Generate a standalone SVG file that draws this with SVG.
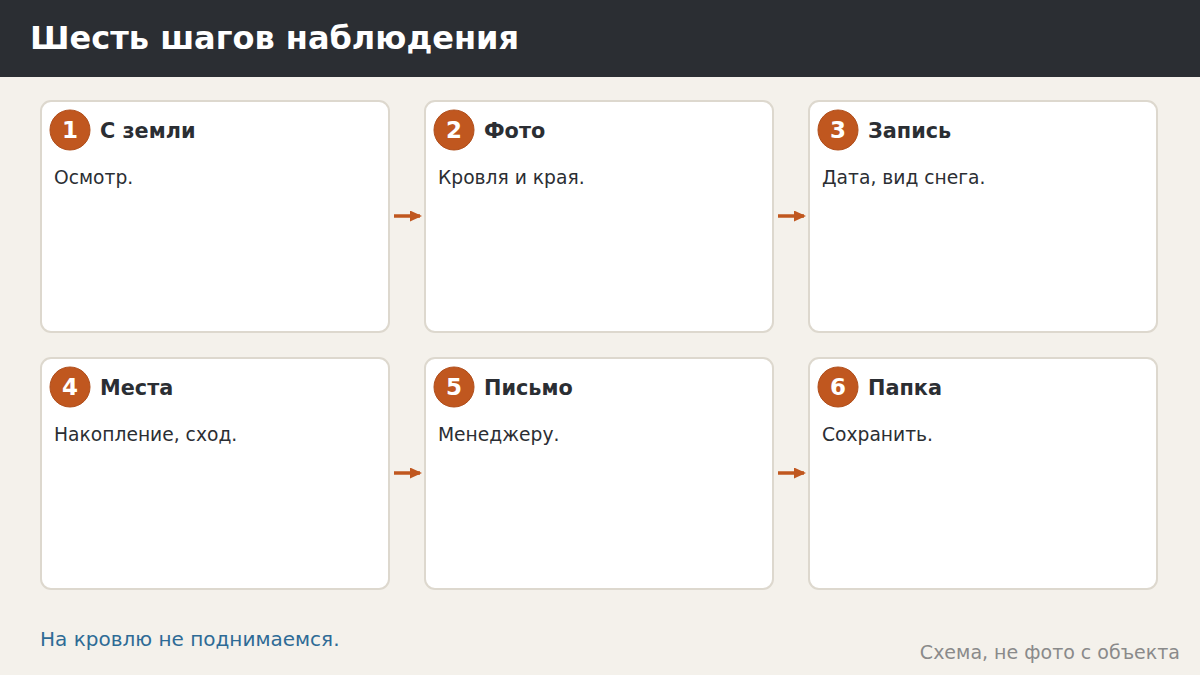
<svg xmlns="http://www.w3.org/2000/svg" width="1200" height="675" viewBox="0 0 1200 675">
<defs>
<style>
.card{fill:#ffffff;stroke:#ddd8ce;stroke-width:2}
.badge{fill:#c0571f;stroke:#b04e1b;stroke-width:1}
.num{font-family:"DejaVu Sans",sans-serif;font-weight:bold;font-size:23px;fill:#ffffff;text-anchor:middle}
.ttl{font-family:"DejaVu Sans",sans-serif;font-weight:bold;font-size:20.8px;fill:#2b2e33}
.body{font-family:"DejaVu Sans",sans-serif;font-size:18.7px;fill:#2b2e33}
.conn{stroke:#c0571f;stroke-width:3.5;fill:none}
</style>
<marker id="ah" markerWidth="12" markerHeight="11" refX="10" refY="5.5" orient="auto" markerUnits="userSpaceOnUse" viewBox="0 0 12 11">
<path d="M0,0 L12,5.5 L0,11 Z" fill="#c0571f"/>
</marker>
</defs>
<rect width="1200" height="675" fill="#f4f1eb"/>
<rect width="1200" height="77" fill="#2b2e33"/>
<text x="30" y="49" font-family="DejaVu Sans, sans-serif" font-weight="bold" font-size="32" fill="#ffffff">Шесть шагов наблюдения</text>

<g id="connectors">
<line class="conn" x1="394" y1="216" x2="420" y2="216" marker-end="url(#ah)"/>
<line class="conn" x1="778" y1="216" x2="804" y2="216" marker-end="url(#ah)"/>
<line class="conn" x1="394" y1="473" x2="420" y2="473" marker-end="url(#ah)"/>
<line class="conn" x1="778" y1="473" x2="804" y2="473" marker-end="url(#ah)"/>
</g>

<g id="step1">
<rect class="card" x="41" y="101" width="348" height="231" rx="10"/>
<circle class="badge" cx="70" cy="130" r="20"/>
<text class="num" x="70" y="138">1</text>
<text class="ttl" x="100" y="138">С земли</text>
<text class="body" x="54" y="184">Осмотр.</text>
</g>
<g id="step2">
<rect class="card" x="425" y="101" width="348" height="231" rx="10"/>
<circle class="badge" cx="454" cy="130" r="20"/>
<text class="num" x="454" y="138">2</text>
<text class="ttl" x="484" y="138">Фото</text>
<text class="body" x="438" y="184">Кровля и края.</text>
</g>
<g id="step3">
<rect class="card" x="809" y="101" width="348" height="231" rx="10"/>
<circle class="badge" cx="838" cy="130" r="20"/>
<text class="num" x="838" y="138">3</text>
<text class="ttl" x="868" y="138">Запись</text>
<text class="body" x="822" y="184">Дата, вид снега.</text>
</g>
<g id="step4">
<rect class="card" x="41" y="358" width="348" height="231" rx="10"/>
<circle class="badge" cx="70" cy="387" r="20"/>
<text class="num" x="70" y="395">4</text>
<text class="ttl" x="100" y="395">Места</text>
<text class="body" x="54" y="441">Накопление, сход.</text>
</g>
<g id="step5">
<rect class="card" x="425" y="358" width="348" height="231" rx="10"/>
<circle class="badge" cx="454" cy="387" r="20"/>
<text class="num" x="454" y="395">5</text>
<text class="ttl" x="484" y="395">Письмо</text>
<text class="body" x="438" y="441">Менеджеру.</text>
</g>
<g id="step6">
<rect class="card" x="809" y="358" width="348" height="231" rx="10"/>
<circle class="badge" cx="838" cy="387" r="20"/>
<text class="num" x="838" y="395">6</text>
<text class="ttl" x="868" y="395">Папка</text>
<text class="body" x="822" y="441">Сохранить.</text>
</g>

<text x="40" y="646" font-family="DejaVu Sans, sans-serif" font-size="20" fill="#2e6b96">На кровлю не поднимаемся.</text>
<text x="1180" y="659" text-anchor="end" font-family="DejaVu Sans, sans-serif" font-size="19" fill="#8a8a8a">Схема, не фото с объекта</text>
</svg>
